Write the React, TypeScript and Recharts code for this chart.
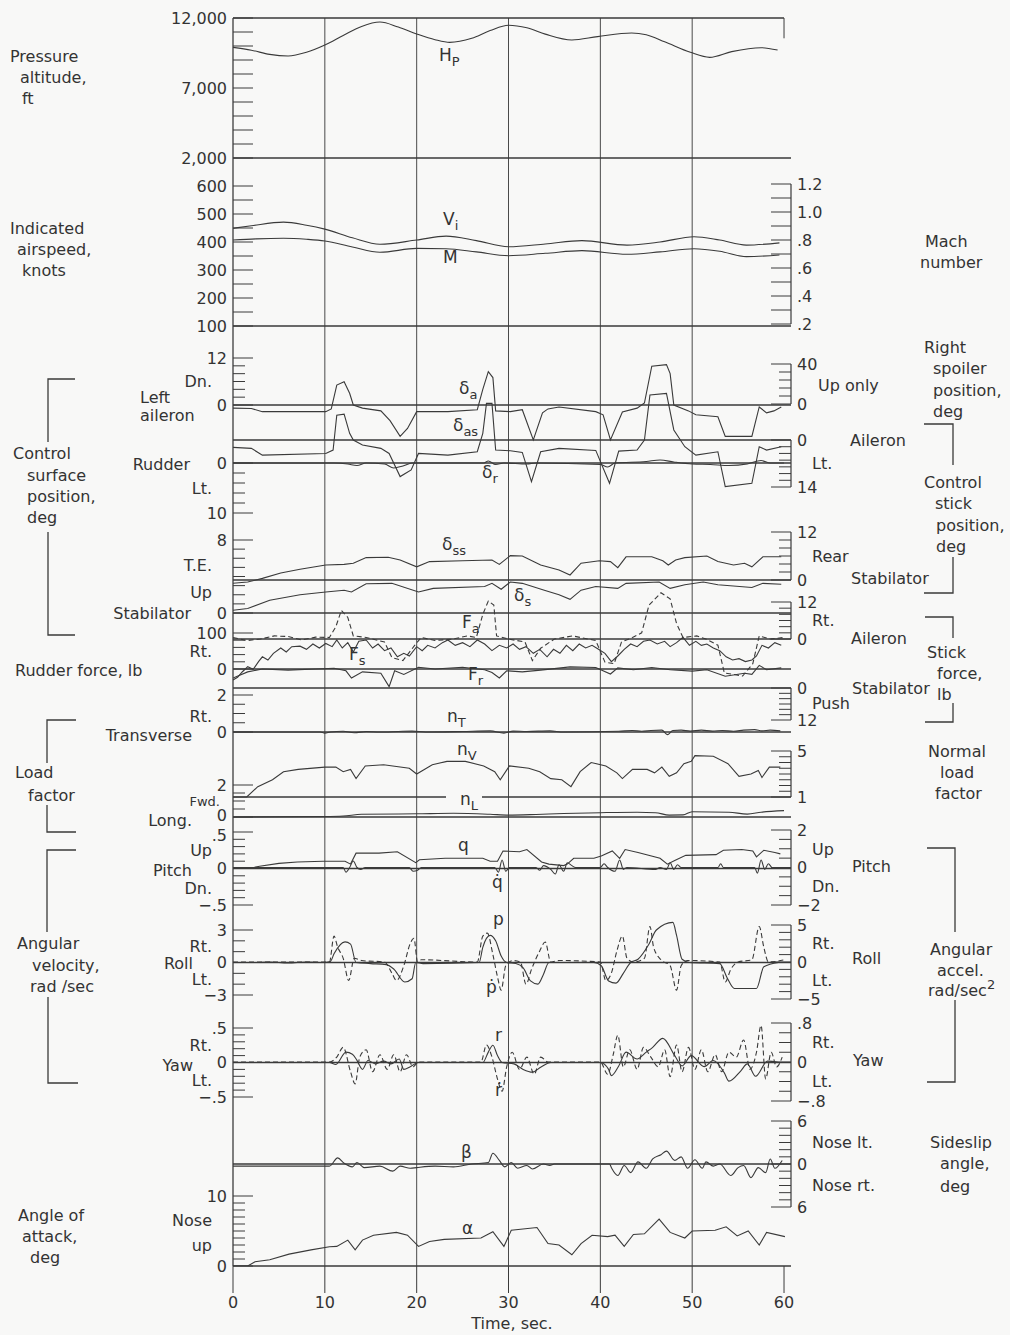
import React from "react";
import { ComposedChart, Line, XAxis, YAxis, ReferenceLine } from "recharts";

type Pt = [number, number];
type Lab = [number, string, ("i" | "s" | "")?, number?];

const FONT = "'DejaVu Sans', 'Liberation Sans', sans-serif";
const INK = "#3a3a3a";
const TXT = "#333";
const BG = "#f8f8f7";

const W = 1010;
const H = 1335;
const PLOT_TOP = 18;
const PLOT_BOTTOM = 1266;
const PLOT_LEFT = 233;
const PLOT_RIGHT = 791;
const T_MAX = 60.76;

// time axis
const timeTicks = [0, 10, 20, 30, 40, 50, 60];
const gridTimes = [0, 10, 20, 30, 40, 50];

// ---- traces, [time (s), value] ----
const hp: Pt[] = [[0, 9900], [2, 9700], [4, 9400], [6, 9290], [8, 9550], [10, 10070], [12, 10750], [14, 11400], [16, 11710], [18, 11350], [20, 10860], [22, 10450], [23.6, 10260], [26, 10550], [28, 11100], [30, 11480], [32, 11300], [34, 10850], [36.9, 10430], [39.7, 10670], [43.4, 10930], [45, 10800], [47, 10300], [49.8, 9550], [51.9, 9190], [54.3, 9600], [57.5, 9880], [59.3, 9710]];
const vi: Pt[] = [[0, 449], [2, 458], [5.5, 471], [8, 460], [10, 446], [13, 415], [16, 392], [20, 407], [23.2, 421], [26.5, 405], [30, 383], [34, 393], [38, 405], [42.9, 389], [46.5, 400], [50.2, 419], [53, 407], [55.9, 389], [59.5, 397]];
const mach: Pt[] = [[0, 0.8], [2.5, 0.808], [5.5, 0.812], [8, 0.805], [10, 0.793], [13, 0.75], [16, 0.712], [20, 0.74], [23.2, 0.738], [26.5, 0.715], [30, 0.688], [34, 0.705], [38, 0.724], [42.9, 0.698], [46.5, 0.715], [50.2, 0.738], [53, 0.72], [55.9, 0.681], [59.5, 0.693]];
const da: Pt[] = [[0, -0.8], [2, -0.9], [3.2, -1.7], [10.1, -1.7], [10.7, -1.0], [11.3, 5.1], [12.1, 5.95], [12.7, 3], [13.1, 0], [14.1, -0.8], [16.1, -1.5], [17.1, -4], [18.2, -8], [19, -6], [20, -1.7], [23.4, -1.7], [26.6, -1.2], [27.2, 4], [27.8, 8.5], [28.3, 7], [28.6, -1.5], [30.2, -1.7], [31.5, -1.2], [32.7, -8.9], [33.7, -2], [34.3, -1], [35.5, -0.5], [39.5, -1.7], [40.3, -2.5], [41.1, -8.9], [42.4, -1.8], [44, -0.8], [44.8, 0.5], [45.6, 9.9], [47.2, 10.3], [47.6, 8], [48, 0], [49.6, -1.5], [50.4, -2.5], [52.8, -3], [53.6, -8], [56.5, -8], [57.3, -0.5], [58.1, -2], [58.9, -1.5], [59.7, -0.5]];
const das: Pt[] = [[0, -2.2], [2, -2.5], [3.2, -4.5], [10.1, -4], [10.9, -3], [11.3, 7.4], [12.1, 7.7], [12.7, 2], [13.1, 0], [14.1, -1.5], [16.1, -2.5], [17, -4], [18.2, -10.9], [19.4, -8.9], [20.2, -4], [23.4, -4.5], [26.6, -3.5], [27.2, 2], [27.6, 10.9], [28.2, 10.9], [28.6, -3], [30.2, -3.2], [31.5, -3.7], [32.5, -12.4], [33.5, -3.5], [35.5, -2.5], [39.5, -3.1], [41, -12.9], [42, -3.3], [44, -3], [44.8, 0], [45.4, 13.4], [47.2, 13.9], [48, 3], [49.2, -2], [50.4, -4.5], [52.8, -3.5], [53.6, -13.9], [56.5, -12.9], [57.3, -2], [58.1, -3], [59.7, -2]];
const dr: Pt[] = [[0, 0], [11, 0], [12.5, -0.2], [13.5, -0.5], [14.5, 0], [16.5, -0.2], [17.5, -1], [18.5, -0.6], [19.5, 0], [27.3, 0], [27.8, 0.4], [28.6, -0.3], [29.5, 0], [32, -0.2], [33, 0], [40, -0.3], [40.8, -0.8], [41.6, 0], [45, 0.3], [46.5, 0.6], [48, 0.2], [50, -0.2], [52, -0.3], [54, -0.5], [56, -0.2], [57.5, 0.5], [58.5, 0], [60, 0]];
const dss: Pt[] = [[0, -0.8], [1.6, -0.5], [3.2, 0.4], [5.2, 1.75], [7.3, 2.7], [10.1, 3.75], [12.1, 3.9], [13.1, 4.2], [14.5, 5.6], [16.9, 5.7], [18.2, 5], [20, 3.3], [21.4, 4.6], [25, 4.8], [28.2, 5], [29, 3.9], [30.2, 6.1], [31.5, 6], [33.5, 3.75], [35.5, 2.5], [36.7, 1.25], [37.9, 4.2], [39.9, 4.8], [41.1, 4.6], [41.9, 3.1], [42.8, 5.8], [45.6, 5.8], [46.8, 4.8], [47.4, 3.75], [48.2, 5], [49.2, 5.6], [51.6, 6], [52.8, 4.6], [54.5, 3.75], [55.7, 4.2], [56.5, 3.3], [57.7, 5.8], [59.7, 5.8]];
const ds: Pt[] = [[0, 0.3], [1.6, 0.5], [4, 1.4], [7.3, 2], [10.1, 2.3], [12.1, 2.5], [12.9, 2.3], [14.5, 3.2], [17.3, 3.25], [20.2, 2.3], [21.8, 2.7], [27.4, 2.9], [28.2, 3.25], [29.2, 2.6], [30.2, 3.4], [31.5, 3.25], [33.9, 2.5], [35.5, 2], [36.7, 1.5], [37.9, 2.5], [39.5, 2.9], [41.9, 2.7], [42.8, 3.25], [46.4, 3.4], [47.6, 2.7], [49.2, 3.1], [51.2, 3.4], [52.8, 3.1], [56.5, 2.8], [57.7, 3.25], [59.7, 3.15]];
const fa: Pt[] = [[0, 0.5], [1.5, -0.5], [3, 0], [4.5, 1], [6, 0.8], [7.5, -0.3], [9, 0.6], [10.5, 0.5], [11.2, 4], [11.8, 9.3], [12.5, 7], [13.1, 1], [14.5, 0.5], [16.5, -1], [17.3, -6], [18.5, -7], [19.8, -2], [20.5, 0.5], [22, -0.5], [24, 0], [25.5, 1], [26.5, 0.5], [27.2, 8], [27.8, 12.3], [28.4, 11], [28.7, 1], [30, 0], [31.8, -1], [32.6, -7], [33.5, -3], [35, 0], [37, 1], [39.5, -0.5], [40.5, -7.5], [41.5, -8], [42.3, -1], [43.5, 0.5], [44.5, 2], [45.3, 11], [46.6, 15], [47.6, 13], [48.3, 5], [49, 0.5], [50.5, 1], [51.5, 0], [52.8, -2], [53.5, -11], [55.5, -12], [56.6, -8], [57.3, 1], [58.5, 0], [60, 0.5]];
const fs: Pt[] = [[0, 3], [0.5, 4], [1, 6], [1.6, 8], [2.2, 7], [2.8, 10], [3.2, 11.7], [3.8, 10.5], [4.4, 13], [5.2, 15], [5.8, 13.5], [6.4, 15.5], [7.3, 15.7], [8, 14.5], [8.7, 16.5], [9.4, 15], [10.1, 16.7], [10.8, 15.5], [11.3, 18], [11.9, 15], [12.5, 17], [13.1, 13.5], [13.7, 17.5], [14.5, 18], [15.2, 15], [15.8, 16.5], [16.5, 14], [17.2, 15], [17.9, 11.7], [18.6, 13], [19.2, 12], [20, 15.5], [20.6, 14], [21.2, 16], [22, 15], [22.8, 17], [23.4, 18], [24.2, 16], [25, 17], [25.8, 15.5], [26.6, 18], [27.4, 16.5], [28.2, 14], [29, 16], [29.8, 15], [30.5, 16.5], [31.2, 14.5], [31.9, 15.5], [32.7, 13], [33.4, 14.5], [34.2, 11.7], [34.9, 14.5], [35.6, 13], [36.3, 16], [37, 14], [37.7, 16.5], [38.4, 15], [39.1, 16], [39.8, 14.5], [40.5, 13], [41.2, 9.9], [41.9, 12], [42.6, 14.5], [43.3, 16.5], [44, 15.5], [44.7, 17.5], [45.4, 18], [46.2, 16.5], [47, 17.5], [47.6, 15.5], [48.3, 17], [49, 19], [49.7, 16], [50.4, 17.5], [51, 16], [51.6, 16.5], [52.3, 15], [53, 14], [53.7, 11.7], [54.4, 10.5], [55.1, 11], [55.8, 9.9], [56.5, 10.5], [57, 12], [57.6, 16], [58.3, 15], [59, 17], [59.7, 16]];
const fr: Pt[] = [[0, -25], [1.6, -8], [3.2, 0], [6, -3], [9, 0], [11, 2], [12.3, -5], [12.9, -25], [14.1, -8], [16.1, -12], [17, -49], [17.6, -5], [18.6, -15], [20.2, 5], [22, 0], [25, 5], [27.4, -2], [28.2, -10], [29, -25], [29.8, -5], [31.5, -8], [33.5, -3], [36.7, 6], [39.5, 4], [41.1, -14], [41.9, 3], [43.6, -2], [45.6, 4], [47.6, -2], [50, -6], [51.6, -2], [53.6, -20], [55.7, -12], [56.5, -15], [57.3, 10], [58.1, -2], [59.7, 3]];
const nt: Pt[] = [[0, 0], [9.5, 0], [10, -0.06], [10.6, 0], [12, 0.04], [13.2, -0.04], [14.5, 0.03], [16, 0], [18, 0.03], [19.5, 0.05], [21, 0], [25, 0.03], [28, 0.06], [29.5, -0.06], [30.5, 0.05], [32, 0.03], [34.5, 0.06], [36, 0], [42, 0.04], [43.5, 0.08], [44.5, 0.04], [45.5, 0.08], [46.7, 0.1], [47.3, -0.14], [47.9, 0.08], [48.8, 0.1], [49.8, 0.05], [51, 0.1], [52.2, 0.05], [53.3, 0.08], [54.5, 0.04], [55.6, 0.1], [56.8, 0.13], [57.6, 0.06], [58.5, 0.1], [59.6, 0.06]];
const nv: Pt[] = [[0, 1], [1.5, 1], [2.7, 1.9], [4.3, 2.5], [5.5, 3.2], [7.1, 3.4], [10, 3.6], [11.2, 3.6], [12, 3.2], [12.8, 3.4], [13.4, 2.6], [14.4, 3.7], [16.4, 3.8], [19.2, 3.5], [20, 3.0], [21.7, 3.8], [23.3, 4.1], [25.3, 4.1], [27.3, 3.7], [28.5, 3.2], [29.1, 2.5], [30.1, 3.7], [32.2, 3.5], [33.4, 3.2], [34.6, 2.6], [35.8, 2.5], [36.8, 1.9], [37.8, 3.2], [39, 4.0], [40.6, 3.7], [41.8, 3.1], [42.4, 2.6], [43.5, 3.4], [45.1, 3.4], [45.9, 3.1], [46.7, 3.6], [47.5, 2.8], [48.3, 3.1], [49.1, 3.9], [49.9, 4.1], [50.3, 4.6], [52.3, 4.55], [53.9, 3.9], [55.1, 2.8], [56.4, 3.0], [57.2, 3.3], [57.6, 2.7], [58.4, 3.6], [59.6, 3.6]];
const nl: Pt[] = [[0, 0], [10, 0.03], [12, 0.06], [14, 0.17], [20, 0.2], [24, 0.23], [28, 0.17], [30, 0.12], [33, 0.16], [36, 0.22], [40, 0.27], [44, 0.3], [46, 0.27], [47.5, 0.12], [49, 0.13], [50, 0.33], [54, 0.3], [56, 0.18], [57.5, 0.3], [60, 0.4]];
const q: Pt[] = [[1.7, 0], [2.9, 0.03], [5, 0.07], [7, 0.09], [9.8, 0.1], [12.2, 0.1], [12.8, 0.06], [13.4, 0.21], [15.9, 0.21], [17.9, 0.23], [19.9, 0.08], [20.3, 0.12], [23.1, 0.14], [27.2, 0.14], [28, 0.1], [28.8, 0.1], [29.4, 0.24], [31.2, 0.23], [32, 0.26], [33.6, 0.09], [34.4, 0.06], [36, 0.04], [36.4, 0.06], [37.1, 0.14], [39.3, 0.14], [40.1, 0.17], [41.3, 0.24], [42.1, 0.14], [42.7, 0.26], [44.1, 0.22], [46.5, 0.14], [47.3, 0.06], [48.1, 0.11], [49.3, 0.18], [52.6, 0.19], [53.4, 0.25], [55.4, 0.26], [56.6, 0.24], [57, 0.16], [57.8, 0.25], [59, 0.22], [59.6, 0.2]];
const qd: Pt[] = [[0, 0], [12, 0], [12.3, -0.25], [12.7, 0], [13.1, 0.35], [13.5, 0], [13.9, -0.1], [14.4, 0], [19.2, 0], [19.6, -0.2], [20.1, -0.15], [20.5, 0], [28.5, 0], [28.9, -0.25], [29.3, 0.4], [29.7, -0.2], [30.1, 0], [33, 0], [33.4, -0.15], [33.8, 0.1], [34.6, -0.1], [35.1, -0.35], [35.5, 0.15], [36, -0.2], [36.4, 0.25], [36.9, 0.1], [37.3, 0], [40, 0], [40.4, 0.2], [40.8, 0], [41.6, -0.2], [42.1, 0.4], [42.5, -0.1], [42.9, 0], [46, -0.1], [46.5, 0], [47.2, -0.1], [47.6, 0.25], [48, -0.1], [48.4, 0.15], [48.8, 0], [52.8, 0], [53.1, 0.2], [53.4, 0], [56.8, 0], [57.1, -0.3], [57.5, 0.4], [57.9, -0.1], [58.3, 0.2], [58.7, 0], [60, 0]];
const p: Pt[] = [[0, 0], [2.5, 0], [4, 0.05], [6, -0.05], [8, 0.05], [9.8, 0], [10.6, 0.1], [11, 0.8], [12.2, 1.9], [12.8, 1.7], [13.4, 0], [15, -0.1], [16.7, -0.2], [17.5, -0.6], [18.7, -1.8], [19.5, -1.5], [19.9, 0], [20.7, -0.1], [26.8, 0], [27.2, 1.4], [28, 2.5], [28.6, 2.0], [29.2, 0.6], [29.8, 0], [30.8, -0.1], [31.6, -0.5], [32.4, -1.7], [33.2, -2.0], [33.8, -1.1], [34.4, 0], [39.3, 0], [40.1, -0.3], [40.9, -1.7], [41.7, -1.9], [42.5, -1.0], [43.3, 0], [44.1, 0.3], [45.3, 1.7], [46.1, 3.0], [47.9, 3.7], [48.3, 2.5], [48.9, 0.3], [49.7, 0], [53, -0.1], [53.8, -1.4], [54.6, -2.4], [57, -2.4], [57.8, -0.4], [59.4, 0]];
const pd: Pt[] = [[0, 0], [10.5, 0], [11, 3.5], [11.4, 2], [12, 0.5], [12.6, -2.5], [13.2, 0.5], [14, 0.2], [16.5, 0], [17.3, -1.5], [17.8, -2.5], [18.6, -0.5], [19.3, 2.5], [19.7, 3.2], [20.1, 0], [20.5, 0.3], [26.6, 0], [27.2, 3.5], [27.7, 3.9], [28.3, 1], [28.8, -2], [29.2, -3.8], [29.7, -0.5], [30.5, 0.2], [31.3, 0], [31.9, -3], [32.5, -1], [33.4, 1.5], [34, 2.7], [34.6, 0], [35.5, 0.2], [40, 0], [40.6, -2.5], [41.2, -1.5], [41.8, 1.5], [42.4, 3.5], [42.9, 0.5], [43.6, 0], [44.8, 0.5], [45.4, 4.8], [45.8, 2], [46.6, 0.3], [47.6, -0.5], [48.3, -3.8], [48.8, -0.5], [49.5, 0.2], [53, 0], [53.6, -2.7], [54.2, -1], [55, 0], [56.5, 0.3], [57.3, 4.8], [57.8, 2], [58.3, 0], [60, 0.3]];
const r: Pt[] = [[0, 0], [10.5, 0], [11.2, -0.03], [12.3, 0.15], [13, 0.12], [13.5, 0.03], [14.1, -0.1], [14.7, 0.03], [15.5, -0.02], [16.4, 0.02], [17.2, -0.02], [18.1, 0.05], [18.6, -0.1], [19.3, -0.06], [20.2, 0], [27.2, 0], [27.8, 0.15], [28.3, 0.25], [28.8, 0.1], [29.3, 0], [30.6, -0.02], [31.6, -0.1], [32.6, -0.14], [33.5, -0.07], [34.6, 0], [40, 0], [40.9, -0.1], [41.2, -0.19], [42, -0.05], [42.8, 0.15], [44, 0.05], [45, 0.15], [45.7, 0.22], [46.8, 0.35], [48.1, 0.1], [48.9, -0.05], [49.9, 0.1], [51.3, -0.06], [52.3, 0.03], [53.5, -0.15], [54, -0.27], [55.3, -0.12], [56, -0.02], [56.9, -0.2], [58.2, 0.02], [59.4, 0]];
const rd: Pt[] = [[0, 0], [10.5, 0], [11.3, 0.1], [12, 0.3], [12.8, -0.2], [13.3, -0.45], [13.8, 0.1], [14.5, 0.25], [15.2, -0.2], [16, 0.15], [16.8, -0.15], [17.5, 0.15], [18.2, -0.2], [18.9, 0.15], [19.6, -0.1], [20.2, 0], [27, 0], [27.6, 0.35], [28.2, 0.1], [28.8, -0.35], [29.3, -0.6], [29.8, -0.1], [30.4, 0.2], [31.2, -0.15], [32, 0.1], [32.8, -0.25], [33.5, 0.1], [34.3, 0], [40, 0], [40.8, -0.25], [41.4, 0.15], [41.9, 0.55], [42.5, -0.1], [43.2, 0.25], [44, -0.15], [44.7, 0.3], [45.5, 0.1], [46.3, -0.1], [47, 0.25], [47.6, -0.3], [48.3, 0.35], [48.9, -0.2], [49.6, 0.3], [50.3, -0.15], [51, 0.25], [51.7, -0.2], [52.5, 0.15], [53.2, -0.2], [54, 0.2], [54.8, 0.1], [55.6, 0.45], [56.3, -0.15], [57, 0.2], [57.5, 0.75], [58, -0.35], [58.6, 0.2], [59.2, -0.1], [59.8, 0.1]];
const beta: Pt[] = [[0, -0.3], [10.5, -0.3], [11.4, 0.85], [12.1, 0.1], [13, -0.4], [13.5, 0.2], [14.3, -0.5], [16, -0.3], [17.4, -1.0], [18.2, -0.3], [19.3, -0.6], [20, -0.5], [22, -0.3], [24, -0.4], [26, 0], [27.8, 0.2], [28.3, 1.5], [29, 0.5], [29.6, -0.4], [30.3, 0.2], [31, -0.6], [32, -0.2], [32.6, -0.7], [33.8, 0], [34.5, -0.2], [35, 0], [41, 0], [41.2, -0.5], [41.9, -1.6], [42.6, -0.2], [43.3, -1.2], [44.1, 0.3], [45, -0.6], [45.7, 0.7], [46.6, 1.3], [47.2, 1.8], [48.1, 0.5], [48.8, 1.0], [49.5, -0.6], [50.3, 0.6], [51.1, -0.6], [51.5, 0.3], [52.3, -0.3], [53, 0], [54.2, -1.6], [55, -0.5], [55.6, -0.2], [56.4, -1.9], [57.2, -0.5], [58, -1.2], [58.5, 0.7], [59, -0.6], [59.8, 0.5]];
const alpha: Pt[] = [[0, 0], [1.6, 0], [2.4, 0.6], [4, 0.9], [6.1, 1.7], [8.5, 2.3], [10.5, 2.76], [11.3, 2.8], [12.5, 3.7], [13.3, 2.3], [14.1, 3.7], [15.3, 4.4], [17.8, 4.8], [19, 4.4], [20.2, 2.8], [21.4, 3.5], [23, 3.8], [27, 4.0], [28.3, 4.9], [29.5, 2.8], [30.3, 5.1], [33.1, 5.5], [34.3, 3.2], [35.5, 3.0], [36.9, 1.6], [37.9, 3.2], [39.1, 4.4], [40.8, 4.2], [41.6, 4.4], [42.6, 2.8], [43.6, 4.5], [44.8, 4.6], [46.4, 6.7], [47.6, 4.8], [49.2, 4.0], [50, 5.0], [52.5, 5.1], [53.7, 5.6], [54.9, 4.3], [56.1, 5.0], [57.3, 3.0], [58.1, 4.8], [60.1, 4.2]];

// ---- scale ticks and labels ----
const steps = (a: number, b: number, s: number) => {
  const out: number[] = [];
  const n = Math.round((b - a) / s);
  for (let i = 0; i <= n; i++) out.push(+(a + i * s).toFixed(4));
  return out;
};

const hpTicks = steps(2000, 12000, 1000);
const hpLabels: Lab[] = [[12000, "12,000"], [7000, "7,000"], [2000, "2,000"]];
const viTicks = steps(100, 600, 50);
const viLabels: Lab[] = [[600, "600"], [500, "500"], [400, "400"], [300, "300"], [200, "200"], [100, "100"]];
const machTicks = steps(0.2, 1.2, 0.1);
const machLabels: Lab[] = [[1.2, "1.2"], [1, "1.0"], [0.8, ".8"], [0.6, ".6"], [0.4, ".4"], [0.2, ".2"]];
const daTicks = steps(0, 12, 2);
const daLabels: Lab[] = [[12, "12"], [6, "Dn.", "i"], [0, "0"]];
const spTicks = steps(0, 40, 8);
const spLabels: Lab[] = [[40, "40"], [0, "0"]];
const dasTicks = steps(-14, 0, 2);
const dasLabels: Lab[] = [[0, "0"], [-7, "Lt.", "i"], [-14, "14"]];
const drTicks = steps(-10, 0, 2);
const drLabels: Lab[] = [[0, "0"], [-5, "Lt.", "i"], [-10, "10"]];
const dssTicks = steps(0, 12, 2);
const dssLabels: Lab[] = [[12, "12"], [6, "Rear", "i"], [0, "0"]];
const dsTicks = steps(0, 8, 1);
const dsLabels: Lab[] = [[8, "8"], [5.2, "T.E.", "i"], [2.3, "Up", "i"], [0, "0"]];
const faTicks = steps(0, 12, 2);
const faLabels: Lab[] = [[12, "12"], [6, "Rt.", "i"], [0, "0"]];
const frTicks = steps(0, 100, 20);
const frLabels: Lab[] = [[100, "100"], [50, "Rt.", "i"], [0, "0"]];
const fsTicks = steps(-12, 0, 2);
const fsLabels: Lab[] = [[0, "0"], [-5.6, "Push", "i"], [-12, "12"]];
const ntTicks = steps(0, 2, 0.5);
const ntLabels: Lab[] = [[2, "2"], [0.85, "Rt.", "i"], [0, "0"]];
const nvTicks = steps(1, 5, 0.5);
const nvLabels: Lab[] = [[5, "5"], [1, "1"]];
const nlTicks = steps(0, 2, 0.5);
const nlLabels: Lab[] = [[2, "2"], [0.95, "Fwd.", "s"], [0, "0", "", -2]];
const qTicks = steps(-0.5, 0.5, 0.1);
const qLabels: Lab[] = [[0.5, ".5", "", 3], [0.25, "Up", "i"], [0, "0"], [-0.27, "Dn.", "i"], [-0.5, "\u2212.5"]];
const qdTicks = steps(-2, 2, 0.5);
const qdLabels: Lab[] = [[2, "2"], [1, "Up", "i"], [0, "0"], [-1, "Dn.", "i"], [-2, "\u22122"]];
const pTicks = steps(-3, 3, 1);
const pLabels: Lab[] = [[3, "3"], [1.5, "Rt.", "i"], [0, "0"], [-1.5, "Lt.", "i"], [-3, "\u22123"]];
const pdTicks = steps(-5, 5, 1);
const pdLabels: Lab[] = [[5, "5"], [2.5, "Rt.", "i"], [0, "0"], [-2.5, "Lt.", "i"], [-5, "\u22125"]];
const rTicks = steps(-0.5, 0.5, 0.1);
const rLabels: Lab[] = [[0.5, ".5"], [0.25, "Rt.", "i"], [0, "0"], [-0.25, "Lt.", "i"], [-0.5, "\u2212.5"]];
const rdTicks = steps(-0.8, 0.8, 0.2);
const rdLabels: Lab[] = [[0.8, ".8"], [0.4, "Rt.", "i"], [0, "0"], [-0.4, "Lt.", "i"], [-0.8, "\u2212.8"]];
const betaTicks = steps(-6, 6, 1);
const betaLabels: Lab[] = [[6, "6"], [3, "Nose lt.", "i"], [0, "0"], [-3, "Nose rt.", "i"], [-6, "6"]];
const alphaTicks = steps(0, 10, 1);
const alphaLabels: Lab[] = [[10, "10"], [6.6, "Nose", "i"], [2.9, "up", "i"], [0, "0"]];

// ---- panel layout: two (value, pixel row) anchors per scale ----
type Panel = {
  id: string;
  side: "left" | "right";
  a: [number, number];
  b: [number, number];
  ticks: number[];
  labels: Lab[];
  long?: boolean;
};

const panels: Panel[] = [
  { id: "hp", side: "left", a: [12000, 18], b: [2000, 158], ticks: hpTicks, labels: hpLabels, long: true },
  { id: "vi", side: "left", a: [600, 186], b: [100, 326], ticks: viTicks, labels: viLabels, long: true },
  { id: "mach", side: "right", a: [1.2, 184], b: [0.2, 324], ticks: machTicks, labels: machLabels, long: true },
  { id: "da", side: "left", a: [12, 358], b: [0, 405], ticks: daTicks, labels: daLabels },
  { id: "sp", side: "right", a: [40, 364], b: [0, 404], ticks: spTicks, labels: spLabels },
  { id: "das", side: "right", a: [0, 440], b: [-14, 487], ticks: dasTicks, labels: dasLabels },
  { id: "dr", side: "left", a: [0, 463], b: [-10, 513], ticks: drTicks, labels: drLabels },
  { id: "dss", side: "right", a: [12, 532], b: [0, 580], ticks: dssTicks, labels: dssLabels },
  { id: "ds", side: "left", a: [8, 540], b: [0, 613], ticks: dsTicks, labels: dsLabels },
  { id: "fa", side: "right", a: [12, 602], b: [0, 639], ticks: faTicks, labels: faLabels },
  { id: "fr", side: "left", a: [100, 633], b: [0, 669], ticks: frTicks, labels: frLabels },
  { id: "fs", side: "right", a: [0, 688], b: [-12, 720], ticks: fsTicks, labels: fsLabels },
  { id: "nt", side: "left", a: [2, 695], b: [0, 732], ticks: ntTicks, labels: ntLabels },
  { id: "nv", side: "right", a: [5, 751], b: [1, 797], ticks: nvTicks, labels: nvLabels },
  { id: "nl", side: "left", a: [2, 785], b: [0, 817], ticks: nlTicks, labels: nlLabels },
  { id: "q", side: "left", a: [0.5, 832], b: [-0.5, 905], ticks: qTicks, labels: qLabels },
  { id: "qd", side: "right", a: [2, 830], b: [-2, 905], ticks: qdTicks, labels: qdLabels },
  { id: "p", side: "left", a: [3, 930], b: [-3, 995], ticks: pTicks, labels: pLabels },
  { id: "pd", side: "right", a: [5, 925], b: [-5, 999], ticks: pdTicks, labels: pdLabels },
  { id: "r", side: "left", a: [0.5, 1028], b: [-0.5, 1097], ticks: rTicks, labels: rLabels },
  { id: "rd", side: "right", a: [0.8, 1023], b: [-0.8, 1101], ticks: rdTicks, labels: rdLabels },
  { id: "beta", side: "right", a: [6, 1121], b: [-6, 1207], ticks: betaTicks, labels: betaLabels },
  { id: "alpha", side: "left", a: [10, 1196], b: [0, 1266], ticks: alphaTicks, labels: alphaLabels },
];

const nLeft = panels.filter((pn) => pn.side === "left").length;
const nRight = panels.length - nLeft;

const domainOf = (pn: Panel): [number, number] => {
  const [v1, y1] = pn.a;
  const [v2, y2] = pn.b;
  const k = (v2 - v1) / (y2 - y1);
  return [v1 + (PLOT_BOTTOM - y1) * k, v1 + (PLOT_TOP - y1) * k];
};

const allTicks = (pn: Panel) => {
  const set = [...pn.ticks];
  pn.labels.forEach((l) => {
    if (!set.some((t) => Math.abs(t - l[0]) < 1e-6)) set.push(l[0]);
  });
  return set.sort((x, y) => x - y);
};

type Trace = { data: Pt[]; axis: string; dashed?: boolean; curve?: "monotone" | "linear" };
const traces: Trace[] = [
  { data: hp, axis: "hp" },
  { data: vi, axis: "vi" },
  { data: mach, axis: "mach" },
  { data: da, axis: "da", curve: "linear" },
  { data: das, axis: "das", curve: "linear" },
  { data: dr, axis: "dr" },
  { data: dss, axis: "dss", curve: "linear" },
  { data: ds, axis: "ds", curve: "linear" },
  { data: fa, axis: "fa", dashed: true, curve: "linear" },
  { data: fs, axis: "fs", curve: "linear" },
  { data: fr, axis: "fr", curve: "linear" },
  { data: nt, axis: "nt" },
  { data: nv, axis: "nv", curve: "linear" },
  { data: nl, axis: "nl" },
  { data: q, axis: "q", curve: "linear" },
  { data: qd, axis: "qd" },
  { data: p, axis: "p" },
  { data: pd, axis: "pd", dashed: true },
  { data: r, axis: "r" },
  { data: rd, axis: "rd", dashed: true },
  { data: beta, axis: "beta" },
  { data: alpha, axis: "alpha", curve: "linear" },
];

const baselines: [string, number][] = [
  ["hp", 2000], ["vi", 100], ["da", 0], ["das", 0], ["dr", 0], ["dss", 0], ["ds", 0],
  ["fa", 0], ["fr", 0], ["fs", 0], ["nt", 0], ["nv", 1], ["nl", 0], ["q", 0], ["p", 0],
  ["r", 0], ["beta", 0],
];

const rows = (pts: Pt[]) => pts.map(([t, v]) => ({ t, v }));

// tick: row comes from the axis scale; the column is the plot edge
function ScaleTick(props: any) {
  const { y, payload, panel } = props;
  const v = payload.value as number;
  const pn = panel as Panel;
  const left = pn.side === "left";
  const x = left ? PLOT_LEFT : PLOT_RIGHT;
  const isTick = pn.ticks.some((t) => Math.abs(t - v) < 1e-6);
  const lab = pn.labels.find((l) => Math.abs(l[0] - v) < 1e-6);
  const major = !!lab && !lab[2];
  const len = pn.long || major ? 20 : 12;
  const dir = left ? 1 : -1;
  const off = !lab ? 0 : lab[2] === "i" ? 21 : lab[2] === "s" ? 13 : 6;
  const nudge = lab && lab[3] ? lab[3] : 0;
  return (
    <g>
      {isTick && <line x1={x} x2={x + dir * len} y1={y} y2={y} stroke={INK} strokeWidth={1} />}
      {lab && (
        <text x={left ? x - off : x + off} y={y + nudge} dy="0.36em" textAnchor={left ? "end" : "start"}
          fontSize={lab[2] === "s" ? 13 : 16} fill={TXT} fontFamily={FONT}>
          {lab[1]}
        </text>
      )}
    </g>
  );
}

function T({ x, y, children, anchor = "start", size = 16 }: { x: number; y: number; children: React.ReactNode; anchor?: "start" | "end" | "middle"; size?: number }) {
  return (
    <text x={x} y={y} dy="0.36em" textAnchor={anchor} fontSize={size} fill={TXT} fontFamily={FONT}>
      {children}
    </text>
  );
}

function Sym({ x, y, main, sub }: { x: number; y: number; main: string; sub?: string }) {
  return (
    <text x={x} y={y} dy="0.36em" fontSize={17} fill={TXT} fontFamily={FONT}>
      {main}
      {sub && <tspan dy={5} fontSize={13}>{sub}</tspan>}
    </text>
  );
}

export default function App() {
  return (
    <div style={{ position: "absolute", left: 0, top: 0, width: W, height: H, background: BG }}>
      <ComposedChart width={W} height={H}
        margin={{ top: PLOT_TOP, right: W - PLOT_RIGHT - nRight, bottom: 29, left: PLOT_LEFT - nLeft }}>
        <XAxis dataKey="t" type="number" domain={[0, T_MAX]} allowDataOverflow ticks={timeTicks} interval={0}
          tickSize={27} tickMargin={4} height={40}
          axisLine={{ stroke: INK, strokeWidth: 1.6 }} tickLine={{ stroke: INK }}
          tick={{ fontSize: 16, fill: TXT, fontFamily: FONT }} />
        {panels.map((pn) => (
          <YAxis key={pn.id} yAxisId={pn.id} orientation={pn.side} width={1} type="number"
            domain={domainOf(pn)} allowDataOverflow ticks={allTicks(pn)} interval={0}
            tickSize={0} tickMargin={0} axisLine={false} tickLine={false}
            tick={(props: any) => <ScaleTick {...props} panel={pn} />} />
        ))}
        {gridTimes.map((t) => (
          <ReferenceLine key={"g" + t} x={t} yAxisId="hp" stroke="#4a4a4a" strokeWidth={t === 0 ? 1.4 : 1} ifOverflow="visible" />
        ))}
        <ReferenceLine yAxisId="hp" segment={[{ x: 0, y: 12000 }, { x: 60, y: 12000 }]} stroke={INK} strokeWidth={1.4} ifOverflow="visible" />
        <ReferenceLine yAxisId="hp" segment={[{ x: 60, y: 12000 }, { x: 60, y: 10550 }]} stroke={INK} strokeWidth={1} ifOverflow="visible" />
        {baselines.map(([id, v]) => (
          <ReferenceLine key={"b" + id} yAxisId={id} y={v} stroke={INK} strokeWidth={1.6} ifOverflow="visible" />
        ))}
        {panels.filter((pn) => pn.side === "right").map((pn) => (
          <ReferenceLine key={"s" + pn.id} yAxisId={pn.id}
            segment={[{ x: T_MAX, y: Math.max(...pn.ticks) }, { x: T_MAX, y: Math.min(...pn.ticks) }]}
            stroke={INK} strokeWidth={1.2} ifOverflow="visible" />
        ))}
        {traces.map((tr, i) => (
          <Line key={"l" + i} data={rows(tr.data)} dataKey="v" yAxisId={tr.axis} type={tr.curve ?? "monotone"}
            stroke={INK} strokeWidth={1.1} strokeDasharray={tr.dashed ? "5 3" : undefined}
            dot={false} activeDot={false} isAnimationActive={false} />
        ))}
      </ComposedChart>

      <svg width={W} height={H} style={{ position: "absolute", left: 0, top: 0, pointerEvents: "none" }}>
        {/* left group titles */}
        <T x={10} y={56}>Pressure</T>
        <T x={20} y={77}>altitude,</T>
        <T x={22} y={98}>ft</T>
        <T x={10} y={228}>Indicated</T>
        <T x={17} y={249}>airspeed,</T>
        <T x={22} y={270}>knots</T>
        <T x={13} y={453}>Control</T>
        <T x={27} y={475}>surface</T>
        <T x={27} y={496}>position,</T>
        <T x={27} y={517}>deg</T>
        <T x={15} y={670}>Rudder force, lb</T>
        <T x={15} y={772}>Load</T>
        <T x={28} y={795}>factor</T>
        <T x={17} y={943}>Angular</T>
        <T x={32} y={965}>velocity,</T>
        <T x={30} y={986}>rad /sec</T>
        <T x={18} y={1215}>Angle of</T>
        <T x={22} y={1236}>attack,</T>
        <T x={30} y={1257}>deg</T>

        {/* row names */}
        <T x={140} y={397}>Left</T>
        <T x={140} y={415}>aileron</T>
        <T x={190} y={464} anchor="end">Rudder</T>
        <T x={191} y={613} anchor="end">Stabilator</T>
        <T x={192} y={735} anchor="end">Transverse</T>
        <T x={192} y={820} anchor="end">Long.</T>
        <T x={192} y={870} anchor="end">Pitch</T>
        <T x={193} y={963} anchor="end">Roll</T>
        <T x={193} y={1065} anchor="end">Yaw</T>

        {/* right row names */}
        <T x={818} y={385}>Up only</T>
        <T x={850} y={440}>Aileron</T>
        <T x={851} y={578}>Stabilator</T>
        <T x={851} y={638}>Aileron</T>
        <T x={852} y={688}>Stabilator</T>
        <T x={852} y={866}>Pitch</T>
        <T x={852} y={958}>Roll</T>
        <T x={853} y={1060}>Yaw</T>

        {/* right group titles */}
        <T x={925} y={241}>Mach</T>
        <T x={920} y={262}>number</T>
        <T x={924} y={347}>Right</T>
        <T x={933} y={368}>spoiler</T>
        <T x={933} y={390}>position,</T>
        <T x={933} y={411}>deg</T>
        <T x={924} y={482}>Control</T>
        <T x={935} y={503}>stick</T>
        <T x={936} y={525}>position,</T>
        <T x={936} y={546}>deg</T>
        <T x={927} y={652}>Stick</T>
        <T x={937} y={673}>force,</T>
        <T x={937} y={694}>lb</T>
        <T x={928} y={751}>Normal</T>
        <T x={940} y={772}>load</T>
        <T x={935} y={793}>factor</T>
        <T x={930} y={949}>Angular</T>
        <T x={937} y={970}>accel.</T>
        <text x={928} y={990} dy="0.36em" fontSize={16} fill={TXT} fontFamily={FONT}>
          rad/sec<tspan dy={-7} fontSize={13}>2</tspan>
        </text>
        <T x={930} y={1142}>Sideslip</T>
        <T x={940} y={1163}>angle,</T>
        <T x={940} y={1186}>deg</T>

        {/* brackets */}
        <g fill="none" stroke={INK} strokeWidth={1.3}>
          <path d="M75,379 H48 V442 M48,532 V635 H75" />
          <path d="M76,720 H47 V763 M47,805 V832 H76" />
          <path d="M76,850 H47 V932 M48,997 V1083 H78" />
          <path d="M924,424 H953 V465 M953,557 V593 H924" />
          <path d="M925,617 H953 V638 M953,703 V722 H925" />
          <path d="M927,848 H955 V932 M955,1000 V1082 H927" />
        </g>

        {/* trace symbols */}
        <Sym x={439} y={55} main="H" sub="P" />
        <Sym x={443} y={219} main="V" sub="i" />
        <Sym x={443} y={257} main="M" />
        <Sym x={459} y={388} main="δ" sub="a" />
        <Sym x={453} y={425} main="δ" sub="as" />
        <Sym x={482} y={472} main="δ" sub="r" />
        <Sym x={442} y={544} main="δ" sub="ss" />
        <Sym x={514} y={595} main="δ" sub="s" />
        <Sym x={462} y={622} main="F" sub="a" />
        <Sym x={349} y={654} main="F" sub="s" />
        <Sym x={468} y={674} main="F" sub="r" />
        <Sym x={447} y={716} main="n" sub="T" />
        <Sym x={457} y={749} main="n" sub="V" />
        <rect x={446} y={792} width={36} height={10} fill={BG} />
        <Sym x={460} y={799} main="n" sub="L" />
        <Sym x={458} y={845} main="q" />
        <Sym x={492} y={882} main={"q\u0307"} />
        <Sym x={493} y={919} main="p" />
        <Sym x={486} y={987} main={"p\u0307"} />
        <Sym x={495} y={1035} main="r" />
        <Sym x={495} y={1090} main={"r\u0307"} />
        <Sym x={461} y={1152} main="β" />
        <Sym x={462} y={1228} main="α" />

        <T x={512} y={1323} anchor="middle">Time, sec.</T>
      </svg>
    </div>
  );
}
